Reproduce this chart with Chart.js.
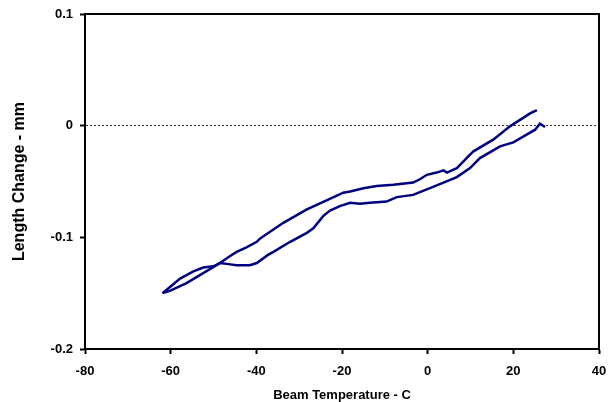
<!DOCTYPE html>
<html>
<head>
<meta charset="utf-8">
<script src="https://cdn.jsdelivr.net/npm/chart.js@4/dist/chart.umd.min.js"></script>
<style>
  html, body { margin: 0; padding: 0; background: #fff; }
  #wrap { width: 613px; height: 402px; }
</style>
</head>
<body>
<div id="wrap"><canvas id="chart" width="613" height="402"></canvas></div>
<script>
// upper branch of the loop (ends near +25 C)
const upperTemp = [-61.9, -60.2, -56.3, -52.4, -49.3, -48.5, -46.2, -44.6, -42.3, -39.9, -39.1, -33.7, -28.2, -23.6, -19.7, -18.1, -15.0, -11.9, -8.0, -3.4, -1.8, -0.2, 2.1, 3.7, 4.5, 6.8, 9.9, 10.7, 15.3, 19.2, 22.3, 23.9, 25.5];
const upperLen  = [-0.150, -0.148, -0.141, -0.132, -0.125, -0.123, -0.117, -0.113, -0.109, -0.104, -0.101, -0.087, -0.075, -0.067, -0.060, -0.059, -0.056, -0.054, -0.053, -0.051, -0.048, -0.044, -0.042, -0.040, -0.042, -0.038, -0.026, -0.023, -0.0125, -0.0006, 0.007, 0.011, 0.014];

// lower branch of the loop (ends near +27 C)
const lowerTemp = [-61.9, -57.8, -54.7, -52.4, -50.0, -48.5, -46.5, -44.6, -41.5, -39.9, -37.2, -36.0, -32.1, -28.2, -26.7, -24.4, -22.8, -20.5, -18.1, -15.8, -13.5, -9.6, -7.2, -3.4, -0.2, 3.7, 6.8, 9.9, 12.2, 16.9, 20.0, 23.1, 25.1, 26.2, 27.4];
const lowerLen  = [-0.150, -0.137, -0.1305, -0.127, -0.126, -0.123, -0.124, -0.125, -0.125, -0.123, -0.1155, -0.113, -0.104, -0.096, -0.092, -0.081, -0.076, -0.072, -0.069, -0.070, -0.069, -0.068, -0.064, -0.062, -0.057, -0.051, -0.046, -0.038, -0.029, -0.0185, -0.015, -0.008, -0.0036, 0.0018, -0.0012];

const xTicks = [-80, -60, -40, -20, 0, 20, 40];
const yTicks = [0.1, 0, -0.1, -0.2];

const lineColor = "#000080";
const fontFamily = "'Liberation Sans', Arial, sans-serif";

function toPoints(xs, ys) {
    return xs.map((x, i) => ({ x: x, y: ys[i] }));
}

// frame round the plot area (Excel style box)
const frameBox = {
    id: "frameBox",
    afterDraw(chart) {
        const { ctx, chartArea: a } = chart;
        ctx.save();
        ctx.strokeStyle = "#000";
        ctx.lineWidth = 2;
        ctx.strokeRect(a.left, a.top, a.right - a.left, a.bottom - a.top);
        ctx.restore();
    }
};

new Chart(document.getElementById("chart"), {
    type: "scatter",
    data: {
        datasets: [
            {
                data: toPoints(upperTemp, upperLen),
                showLine: true,
                borderColor: lineColor,
                borderWidth: 2.5,
                pointRadius: 0,
                tension: 0
            },
            {
                data: toPoints(lowerTemp, lowerLen),
                showLine: true,
                borderColor: lineColor,
                borderWidth: 2.5,
                pointRadius: 0,
                tension: 0
            }
        ]
    },
    options: {
        responsive: false,
        animation: false,
        layout: { padding: { top: 14, right: 14, left: 0, bottom: 0 } },
        plugins: {
            legend: { display: false },
            tooltip: { enabled: false }
        },
        scales: {
            x: {
                type: "linear",
                min: -80,
                max: 40,
                afterBuildTicks: (scale) => { scale.ticks = xTicks.map(v => ({ value: v })); },
                afterFit: (scale) => {
                    scale.height = 53;
                    scale.paddingLeft = 0;
                    scale.paddingRight = 0;
                },
                ticks: {
                    color: "#000",
                    padding: 10,
                    font: { family: fontFamily, size: 13, weight: "bold" }
                },
                grid: {
                    drawOnChartArea: false,
                    drawTicks: true,
                    tickLength: 5,
                    tickColor: "#000",
                    tickWidth: 2
                },
                border: { color: "#000", width: 2 },
                title: {
                    display: true,
                    text: "Beam Temperature - C",
                    color: "#000",
                    padding: { top: 0, bottom: 0 },
                    font: { family: fontFamily, size: 13, weight: "bold", lineHeight: 1 }
                }
            },
            y: {
                type: "linear",
                min: -0.2,
                max: 0.1,
                afterBuildTicks: (scale) => { scale.ticks = yTicks.map(v => ({ value: v })); },
                afterFit: (scale) => {
                    scale.width = 85;
                    scale.paddingTop = 0;
                    scale.paddingBottom = 0;
                },
                ticks: {
                    color: "#000",
                    padding: 7,
                    font: { family: fontFamily, size: 13, weight: "bold" },
                    callback: (v) => String(Math.round(v * 10) / 10)
                },
                grid: {
                    drawOnChartArea: true,
                    drawTicks: true,
                    tickLength: 5,
                    tickColor: "#000",
                    tickWidth: 2,
                    lineWidth: 1,
                    color: (ctx) => (ctx.tick && ctx.tick.value === 0 ? "#333" : "rgba(0,0,0,0)")
                },
                border: { color: "#000", width: 2, dash: [2, 2] },
                title: {
                    display: true,
                    text: "Length Change - mm",
                    color: "#000",
                    padding: { top: 10, bottom: 0 },
                    font: { family: fontFamily, size: 16, weight: "bold" }
                }
            }
        }
    },
    plugins: [frameBox]
});
</script>
</body>
</html>
